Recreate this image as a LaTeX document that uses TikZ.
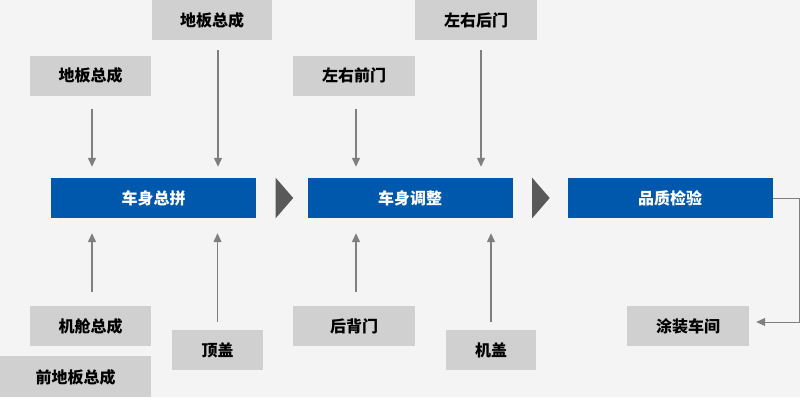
\documentclass[tikz,border=0pt]{standalone}
\usepackage{fontspec}
\newfontfamily\cjk{Noto Sans CJK SC}
\usepackage{xcolor}
\usepackage{tikz}
\usetikzlibrary{arrows.meta,positioning}

\definecolor{bggray}{HTML}{F4F4F4}
\definecolor{partgray}{HTML}{D0D0D0}
\definecolor{stageblue}{HTML}{0058AC}
\definecolor{arrowgray}{HTML}{7F7F7F}
\definecolor{chevgray}{HTML}{595959}

\begin{document}
\begin{tikzpicture}[
  x=1pt, y=-1pt,
  part/.style={rectangle, fill=partgray, minimum width=121pt,
    minimum height=40pt, inner sep=0pt,
    font=\cjk\bfseries\fontsize{16}{19}\selectfont},
  stage/.style={part, fill=stageblue, text=white, minimum width=205pt},
  feed/.style={-{Triangle[length=9pt, width=8pt]}, line width=1.3pt,
    draw=arrowgray},
  chev/.style={fill=chevgray},
]
  \useasboundingbox[fill=bggray] (0,0) rectangle (800,397);

  \node[stage] (zp) at (153.5,198) {车身总拼};
  \node[stage] (tz) at (410,198) {车身调整};
  \node[stage] (pz) at (670,198) {品质检验};

  \node[part, minimum width=120pt] (fb1) at (212,20) {地板总成};
  \node[part] (fb2) at (90.5,75.5) {地板总成};
  \node[part] (jc) at (90.5,326) {机舱总成};
  \node[part, minimum width=151pt, minimum height=41pt,
    below=10pt of jc.south east, anchor=north east] (qd) {前地板总成};
  \node[part, minimum width=91pt] (dg) at (217.5,350) {顶盖};

  \node[part, minimum width=122pt] (hm) at (476,20) {左右后门};
  \node[part, minimum width=122pt] (qm) at (354,75.5) {左右前门};
  \node[part, minimum width=122pt] (hb) at (354,326) {后背门};
  \node[part, minimum width=90pt] (jg) at (491,350) {机盖};

  \node[part, minimum width=122pt] (tc) at (688,326) {涂装车间};

  \draw[feed, shorten <=13pt, shorten >=11pt] ([xshift=1.5pt]fb2.south) -- ([xshift=1.5pt]fb2.south |- zp.north);
  \draw[feed, shorten <=10pt, shorten >=11pt] ([xshift=6pt]fb1.south) -- ([xshift=6pt]fb1.south |- zp.north);
  \draw[feed, shorten <=14pt, shorten >=15pt] ([xshift=1.5pt]jc.north) -- ([xshift=1.5pt]jc.north |- zp.south);
  \draw[feed, shorten <=8pt, shorten >=15pt] (dg.north) -- (dg.north |- zp.south);

  \draw[feed, shorten <=13pt, shorten >=11pt] ([xshift=2pt]qm.south) -- ([xshift=2pt]qm.south |- tz.north);
  \draw[feed, shorten <=10pt, shorten >=11pt] ([xshift=5pt]hm.south) -- ([xshift=5pt]hm.south |- tz.north);
  \draw[feed, shorten <=14pt, shorten >=15pt] ([xshift=2pt]hb.north) -- ([xshift=2pt]hb.north |- tz.south);
  \draw[feed, shorten <=8pt, shorten >=15pt] (jg.north) -- (jg.north |- tz.south);

  \draw[feed, line width=1pt, shorten >=7pt] (pz.east) -- ++(27,0) |- ([yshift=4pt]tc.east);

  \foreach \s in {zp,tz}
    \fill[chev] ([xshift=19.5pt]\s.north east) -- ([xshift=37pt]\s.east)
      -- ([xshift=19.5pt]\s.south east) -- cycle;
\end{tikzpicture}
\end{document}
